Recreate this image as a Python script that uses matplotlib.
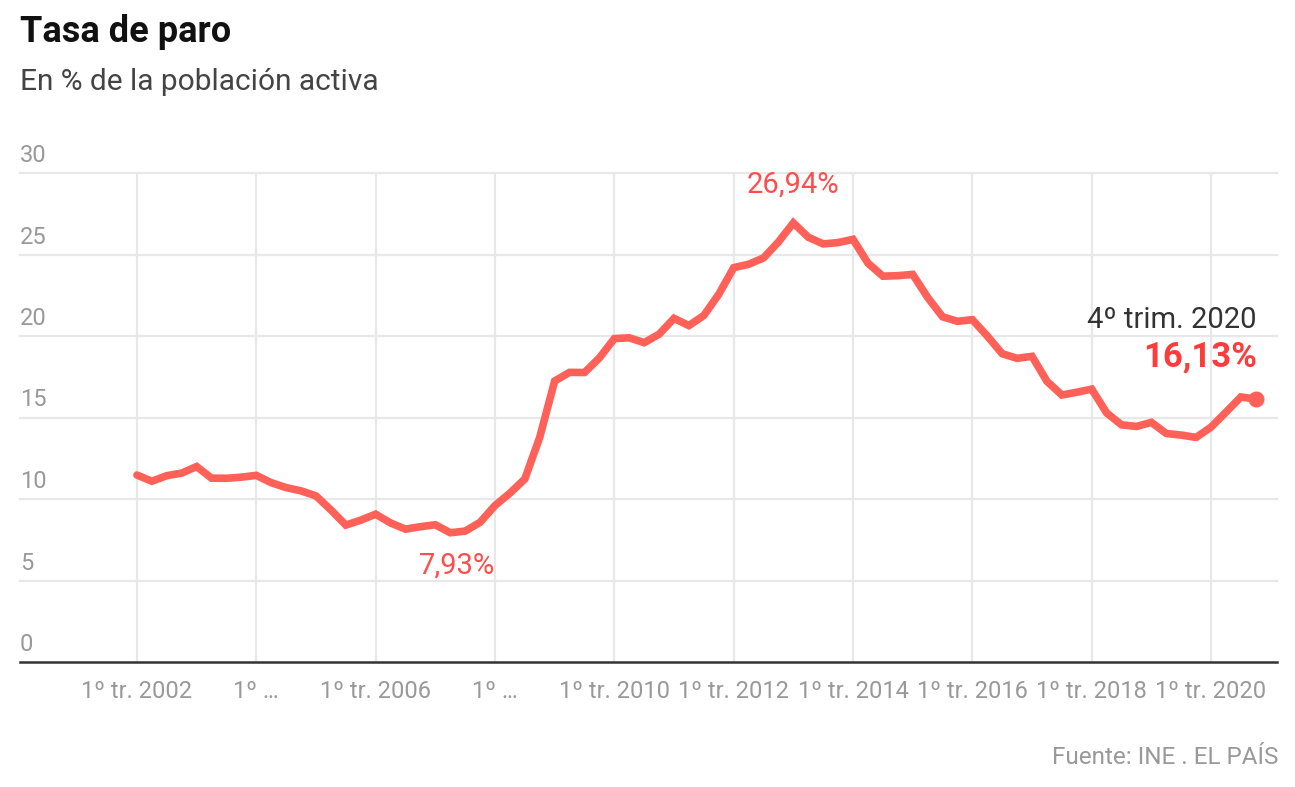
import numpy as np
import matplotlib.pyplot as plt

plt.rcParams['font.family'] = ['Roboto', 'DejaVu Sans']

# Tasa de paro trimestral (EPA), 1er trim. 2002 - 4º trim. 2020
tasa = [
    11.47, 11.09, 11.43, 11.59,   # 2002
    11.99, 11.28, 11.27, 11.34,   # 2003
    11.45, 11.00, 10.70, 10.50,   # 2004
    10.19, 9.33, 8.40, 8.70,      # 2005
    9.07, 8.53, 8.15, 8.30,       # 2006
    8.42, 7.93, 8.03, 8.57,       # 2007
    9.60, 10.36, 11.23, 13.79,    # 2008
    17.24, 17.77, 17.76, 18.66,   # 2009
    19.84, 19.89, 19.59, 20.11,   # 2010
    21.08, 20.64, 21.26, 22.56,   # 2011
    24.19, 24.40, 24.79, 25.77,   # 2012
    26.94, 26.06, 25.65, 25.73,   # 2013
    25.93, 24.47, 23.67, 23.70,   # 2014
    23.78, 22.37, 21.18, 20.90,   # 2015
    21.00, 20.00, 18.91, 18.63,   # 2016
    18.75, 17.22, 16.38, 16.55,   # 2017
    16.74, 15.28, 14.55, 14.45,   # 2018
    14.70, 14.02, 13.92, 13.78,   # 2019
    14.41, 15.33, 16.26, 16.13,   # 2020
]
x_ticks = list(range(0, 76, 8))
x_labels = ['1º tr. 2002', '1º …', '1º tr. 2006', '1º …', '1º tr. 2010',
            '1º tr. 2012', '1º tr. 2014', '1º tr. 2016', '1º tr. 2018', '1º tr. 2020']
y_ticks = [0, 5, 10, 15, 20, 25, 30]

red = '#ff6159'
x = np.arange(len(tasa))

fig = plt.figure(figsize=(12.95, 7.87), dpi=100)
ax = fig.add_axes([20 / 1295, 125 / 787, 1257 / 1295, 489 / 787])

ax.plot(x, tasa, color=red, lw=5.5, solid_joinstyle='miter', solid_capstyle='round', zorder=3)
ax.plot(x[-1], tasa[-1], 'o', color=red, ms=10.5, zorder=4)

ax.set_xlim(-7.84, 76.42)
ax.set_ylim(0, 30)

# rejilla
for v in y_ticks[1:]:
    ax.axhline(v, color='#e8e8e8', lw=1.6, zorder=1, clip_on=False)
for t in x_ticks:
    ax.axvline(t, color='#e8e8e8', lw=1.6, zorder=1)

for s in ['top', 'right', 'left']:
    ax.spines[s].set_visible(False)
ax.spines['bottom'].set_color('#333333')
ax.spines['bottom'].set_linewidth(1.8)
ax.spines['bottom'].set_zorder(5)

ax.set_yticks([])
ax.set_xticks(x_ticks)
ax.set_xticklabels(x_labels, color='#999999', fontsize=17)
ax.tick_params(axis='x', length=0, pad=13)

for v in y_ticks:
    ax.annotate(str(v), xy=(0, v), xycoords=('axes fraction', 'data'),
                xytext=(0, 6), textcoords='offset pixels', ha='left', va='bottom',
                color='#999999', fontsize=17)

# anotaciones
imax = int(np.argmax(tasa))
imin = int(np.argmin(tasa))
ax.annotate('26,94%', xy=(imax, tasa[imax]), xytext=(0, 38), textcoords='offset pixels',
            ha='center', va='center', color='#ff4d4d', fontsize=21)
ax.annotate('7,93%', xy=(imin, tasa[imin]), xytext=(7, -33), textcoords='offset pixels',
            ha='center', va='center', color='#ff4d4d', fontsize=21)
ax.annotate('4º trim. 2020', xy=(x[-1], tasa[-1]), xytext=(1, 79), textcoords='offset pixels',
            ha='right', va='center', color='#333333', fontsize=21)
ax.annotate('16,13%', xy=(x[-1], tasa[-1]), xytext=(1, 42), textcoords='offset pixels',
            ha='right', va='center', color='#ff3b3b', fontsize=25, fontweight='bold')

fig.text(20 / 1295, 1 - 32 / 787, 'Tasa de paro', fontsize=26, fontweight='bold',
         color='#111111', ha='left', va='center')
fig.text(20 / 1295, 1 - 82 / 787, 'En % de la población activa', fontsize=21.5,
         color='#444444', ha='left', va='center')
fig.text(1278 / 1295, 1 - 757 / 787, 'Fuente: INE . EL PAÍS', fontsize=17.5,
         color='#999999', ha='right', va='center')

fig.savefig('out.png', dpi=100)
